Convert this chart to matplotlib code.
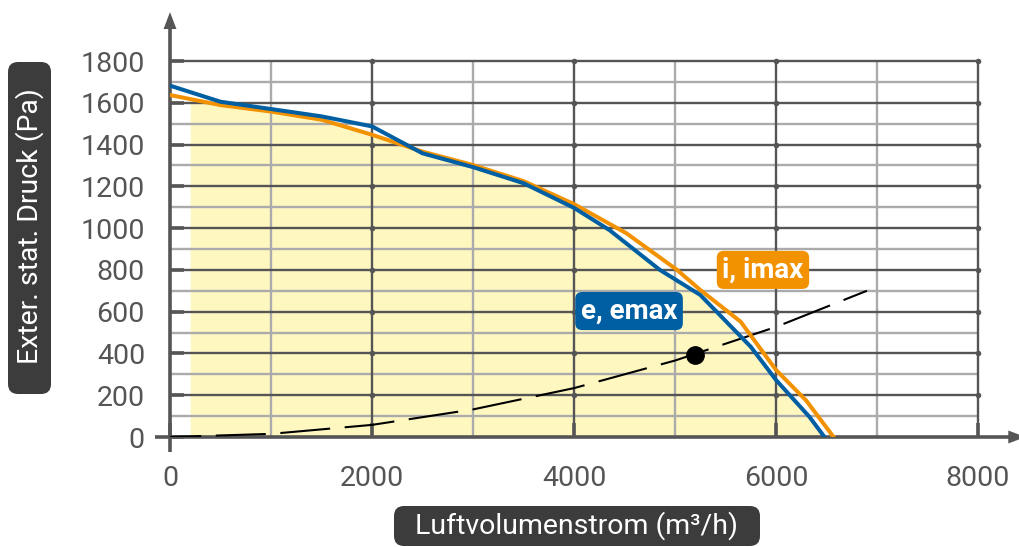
import numpy as np
import matplotlib
matplotlib.use("Agg")
import matplotlib.pyplot as plt
from matplotlib.patches import Polygon, FancyBboxPatch

plt.rcParams['font.family'] = ['Roboto', 'DejaVu Sans']

# ---- data ----
emax_x = [0, 500, 1000, 1500, 2000, 2500, 3000, 3500, 4000, 4350, 4850, 5250, 5750, 6000, 6330, 6480]
emax_y = [1682, 1605, 1570, 1535, 1487, 1358, 1292, 1215, 1097, 991, 800, 680, 432, 273, 97, 0]

imax_x = [0, 500, 1000, 1500, 2000, 2500, 3000, 3500, 4000, 4520, 5020, 5250, 5650, 6000, 6300, 6570]
imax_y = [1637, 1589, 1558, 1519, 1447, 1366, 1302, 1225, 1115, 975, 800, 704, 552, 321, 174, 0]

system_x = [0, 1000, 2000, 3000, 4000, 5000, 6000, 6900]
system_y = [0, 15, 58, 132, 234, 366, 527, 700]

op_x = [5200]
op_y = [392]

fill_start = 200

x_ticks = [0, 2000, 4000, 6000, 8000]
x_minor = [1000, 3000, 5000, 7000]
y_ticks = [0, 200, 400, 600, 800, 1000, 1200, 1400, 1600, 1800]
y_minor = [100, 300, 500, 700, 900, 1100, 1300, 1500, 1700]

xlabel = "Luftvolumenstrom (m³/h)"
ylabel = "Exter. stat. Druck (Pa)"
label_e = "e, emax"
label_i = "i, imax"

# ---- style ----
W, H = 1019, 547
BLUE = '#005FA3'
ORANGE = '#F39200'
DARK = '#555555'
LIGHT = '#ABABAB'
FILL = '#FFF7C0'
BOX = '#3C3C3C'
TXT = '#555555'

fig = plt.figure(figsize=(W / 100, H / 100), dpi=100)
ax = fig.add_axes([170 / W, 110 / H, 808 / W, 376 / H])
ax.set_xlim(0, 8000)
ax.set_ylim(0, 1800)
for s in ax.spines.values():
    s.set_visible(False)
ax.set_facecolor('none')

# fill under lower envelope
fx = np.linspace(fill_start, emax_x[-1], 600)
fy = np.minimum(np.interp(fx, emax_x, emax_y), np.interp(fx, imax_x, imax_y))
ax.fill_between(fx, 0, fy, color=FILL, lw=0, zorder=1)

# grid
ax.hlines(y_minor, 0, 8000, color=LIGHT, lw=1.7, zorder=2, clip_on=False)
ax.vlines(x_minor, 0, 1800, color=LIGHT, lw=1.7, zorder=2, clip_on=False)
ax.hlines(y_ticks[1:], 0, 8000, color=DARK, lw=1.7, zorder=3, clip_on=False)
ax.vlines(x_ticks[1:], 0, 1800, color=DARK, lw=1.7, zorder=3, clip_on=False)
gx, gy = np.meshgrid(x_ticks[1:], y_ticks[1:])
ax.scatter(gx.ravel(), gy.ravel(), s=16, color=DARK, zorder=3, clip_on=False, lw=0)

# ticks
ax.set_xticks(x_ticks)
ax.set_yticks(y_ticks)
ax.set_xticks(x_minor, minor=True)
ax.set_yticks(y_minor, minor=True)
ax.tick_params(which='major', direction='in', length=10, width=2.6, color=DARK,
               labelsize=20.5, labelcolor=TXT)
ax.tick_params(axis='y', which='major', pad=18)
ax.tick_params(axis='x', which='major', pad=20)
ax.tick_params(which='minor', length=0)

# axis lines with arrows
ax.plot([-149, 8310], [0, 0], color=DARK, lw=2.6, zorder=4, clip_on=False, solid_capstyle='butt')
ax.plot([0, 0], [-72, 1960], color=DARK, lw=2.6, zorder=4, clip_on=False, solid_capstyle='butt')
ax.add_patch(Polygon([[8300, -31], [8300, 31], [8470, 0]], closed=True, color=DARK,
                     zorder=4, clip_on=False, lw=0))
ax.add_patch(Polygon([[-64, 1953], [64, 1953], [0, 2034]], closed=True, color=DARK,
                     zorder=4, clip_on=False, lw=0))

# curves
ax.plot(system_x, system_y, color='black', lw=1.5, zorder=5,
        linestyle=(9, (24, 7)))
ax.plot(imax_x, imax_y, color=ORANGE, lw=2.9, zorder=6, solid_joinstyle='round')
ax.plot(emax_x, emax_y, color=BLUE, lw=2.9, zorder=7, solid_joinstyle='round')
ax.plot(op_x, op_y, 'o', color='black', ms=12.5, zorder=8)

# curve labels
ax.text(4545, 603, label_e, color='white', fontsize=20, fontweight='bold',
        ha='center', va='center', zorder=9,
        bbox=dict(boxstyle='round,pad=0.2,rounding_size=0.25', fc=BLUE, ec='none'))
ax.text(5871, 800, label_i, color='white', fontsize=20, fontweight='bold',
        ha='center', va='center', zorder=9,
        bbox=dict(boxstyle='round,pad=0.2,rounding_size=0.25', fc=ORANGE, ec='none'))

# axis label boxes (pixel overlay)
oa = fig.add_axes([0, 0, 1, 1])
oa.set_xlim(0, W)
oa.set_ylim(0, H)
oa.axis('off')
oa.set_zorder(10)
oa.patch.set_alpha(0)


def box(x0, y0, x1, y1, r=10):
    # pixel coordinates from top-left
    yb = H - y1
    h = y1 - y0
    w = x1 - x0
    oa.add_patch(FancyBboxPatch((x0 + r, yb + r), w - 2 * r, h - 2 * r,
                                boxstyle=f'round,pad={r},rounding_size={r}',
                                fc=BOX, ec='none'))


box(8, 62, 51, 394)
oa.text(30, H - 226, ylabel, rotation=90, color='white', fontsize=20.5,
        ha='center', va='center')
box(394, 506, 760, 546)
oa.text(577, H - 526, xlabel, color='white', fontsize=20.5, ha='center', va='center')

fig.savefig('out.png', dpi=100)
